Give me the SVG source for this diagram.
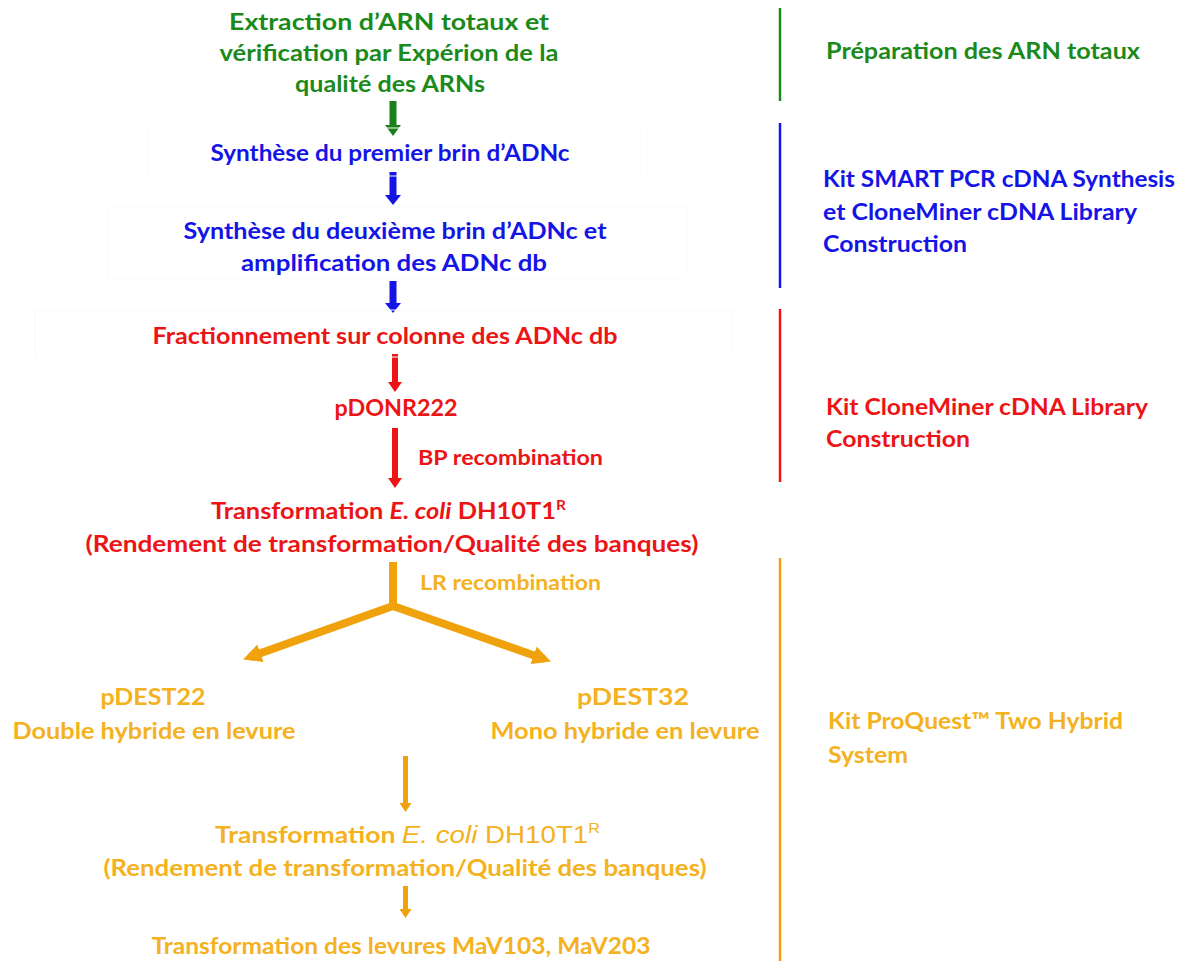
<svg xmlns="http://www.w3.org/2000/svg" width="1180" height="961" viewBox="0 0 1180 961">
<defs>
<style>
text{font-family:Lato,"Open Sans","Liberation Sans",sans-serif;font-weight:bold;font-size:23px}
.c{text-anchor:middle}
.g{fill:#1b8a1b}
.b{fill:#1414e6}
.r{fill:#ec1414}
.o{fill:#f4b120}
.sm{font-size:20px}
.ar{font-family:"Liberation Sans",Arial,sans-serif;font-weight:normal;font-size:24px}
.sup{font-size:14px}
.box{fill:none;stroke:#fafafa;stroke-width:1}
.side{stroke-width:2.5}
</style>
<marker id="oh" viewBox="0 0 10 10" refX="6" refY="5" markerWidth="2.3" markerHeight="2.3" orient="auto" markerUnits="strokeWidth">
<path d="M0,0 L10,5 L0,10 Z" fill="#f0a20c"/>
</marker>
</defs>
<rect width="1180" height="961" fill="#ffffff"/>

<g id="connectors">
<polygon points="389.5,101 396.5,101 396.5,125 401,125 393,136 385,125 389.5,125" fill="#1b7f1b"/>
<polygon points="389.5,172 396.5,172 396.5,195 401,195 393,205 385,195 389.5,195" fill="#1414e6"/>
<polygon points="389.5,281 396.5,281 396.5,303 401,303 393,313 385,303 389.5,303" fill="#1414e6"/>
<polygon points="392,354 398,354 398,382 402,382 395,392 388,382 392,382" fill="#ec1414"/>
<polygon points="392,428 398,428 398,478 402,478 395,488 388,478 392,478" fill="#ec1414"/>
<path d="M393,562 V606" stroke="#f0a20c" stroke-width="8" fill="none"/>
<path d="M393,606 L250,657" stroke="#f0a20c" stroke-width="8" fill="none" marker-end="url(#oh)"/>
<path d="M393,606 L544,659" stroke="#f0a20c" stroke-width="8" fill="none" marker-end="url(#oh)"/>
<polygon points="403,756 408,756 408,803 411.5,803 405.5,812 399.5,803 403,803" fill="#f0a20c"/>
<polygon points="403,886 408,886 408,909 411.5,909 405.5,918 399.5,909 403,909" fill="#f0a20c"/>
</g>

<g id="n-extraction">
<text class="c g" x="389" y="30" textLength="320" lengthAdjust="spacingAndGlyphs">Extraction d’ARN totaux et</text>
<text class="c g" x="389" y="61" textLength="339" lengthAdjust="spacingAndGlyphs">vérification par Expérion de la</text>
<text class="c g" x="390" y="92" textLength="190" lengthAdjust="spacingAndGlyphs">qualité des ARNs</text>
</g>

<g id="n-premier-brin">
<rect class="box" x="148" y="128" width="492" height="48"/>
<text class="c b" x="390" y="161" textLength="359" lengthAdjust="spacingAndGlyphs">Synthèse du premier brin d’ADNc</text>
</g>

<g id="n-deuxieme-brin">
<rect class="box" x="108" y="207" width="579" height="71"/>
<text class="c b" x="395" y="239" textLength="423" lengthAdjust="spacingAndGlyphs">Synthèse du deuxième brin d’ADNc et</text>
<text class="c b" x="394" y="271" textLength="306" lengthAdjust="spacingAndGlyphs">amplification des ADNc db</text>
</g>

<g id="n-fractionnement">
<rect class="box" x="35" y="310" width="698" height="47"/>
<text class="c r" x="385" y="344" textLength="465" lengthAdjust="spacingAndGlyphs">Fractionnement sur colonne des ADNc db</text>
</g>

<g id="n-pdonr">
<text class="c r" x="396" y="416" textLength="123" lengthAdjust="spacingAndGlyphs">pDONR222</text>
</g>

<g id="l-bp">
<text class="r sm" x="418" y="465" textLength="185" lengthAdjust="spacingAndGlyphs">BP recombination</text>
</g>

<g id="n-transfo-ecoli-1">
<text class="r" x="211" y="519" textLength="355" lengthAdjust="spacingAndGlyphs">Transformation <tspan font-style="italic">E. coli</tspan> DH10T1<tspan class="sup" dy="-9">R</tspan></text>
<text class="c r" x="392" y="552" textLength="613" lengthAdjust="spacingAndGlyphs">(Rendement de transformation/Qualité des banques)</text>
</g>

<g id="l-lr">
<text class="o sm" x="420" y="590" textLength="181" lengthAdjust="spacingAndGlyphs">LR recombination</text>
</g>

<g id="n-pdest22">
<text class="c o" x="153" y="705" textLength="105" lengthAdjust="spacingAndGlyphs">pDEST22</text>
<text class="c o" x="154" y="739" textLength="283" lengthAdjust="spacingAndGlyphs">Double hybride en levure</text>
</g>

<g id="n-pdest32">
<text class="c o" x="633" y="705" textLength="112" lengthAdjust="spacingAndGlyphs">pDEST32</text>
<text class="c o" x="625" y="739" textLength="269" lengthAdjust="spacingAndGlyphs">Mono hybride en levure</text>
</g>

<g id="n-transfo-ecoli-2">
<text class="o" x="215" y="843" textLength="385" lengthAdjust="spacingAndGlyphs">Transformation <tspan class="ar" font-style="italic">E. coli</tspan><tspan class="ar"> DH10T1</tspan><tspan class="ar sup" dy="-10">R</tspan></text>
<text class="c o" x="405" y="876" textLength="603" lengthAdjust="spacingAndGlyphs">(Rendement de transformation/Qualité des banques)</text>
</g>

<g id="n-levures">
<text class="c o" x="401" y="954" textLength="499" lengthAdjust="spacingAndGlyphs">Transformation des levures MaV103, MaV203</text>
</g>

<g id="s-arn">
<line class="side" x1="780" y1="8" x2="780" y2="101" stroke="#1b8a1b"/>
<text class="g" x="826" y="59" textLength="314" lengthAdjust="spacingAndGlyphs">Préparation des ARN totaux</text>
</g>

<g id="s-smart">
<line class="side" x1="780" y1="123" x2="780" y2="288" stroke="#1414e6"/>
<text class="b" x="823" y="187" textLength="352" lengthAdjust="spacingAndGlyphs">Kit SMART PCR cDNA Synthesis</text>
<text class="b" x="823" y="220" textLength="314" lengthAdjust="spacingAndGlyphs">et CloneMiner cDNA Library</text>
<text class="b" x="823" y="252" textLength="144" lengthAdjust="spacingAndGlyphs">Construction</text>
</g>

<g id="s-cloneminer">
<line class="side" x1="780" y1="309" x2="780" y2="482" stroke="#ec1414"/>
<text class="r" x="826" y="415" textLength="322" lengthAdjust="spacingAndGlyphs">Kit CloneMiner cDNA Library</text>
<text class="r" x="826" y="447" textLength="144" lengthAdjust="spacingAndGlyphs">Construction</text>
</g>

<g id="s-proquest">
<line class="side" x1="780" y1="558" x2="780" y2="961" stroke="#f0a20c"/>
<text class="o" x="828" y="729" textLength="295" lengthAdjust="spacingAndGlyphs">Kit ProQuest™ Two Hybrid</text>
<text class="o" x="828" y="763" textLength="80" lengthAdjust="spacingAndGlyphs">System</text>
</g>
</svg>
